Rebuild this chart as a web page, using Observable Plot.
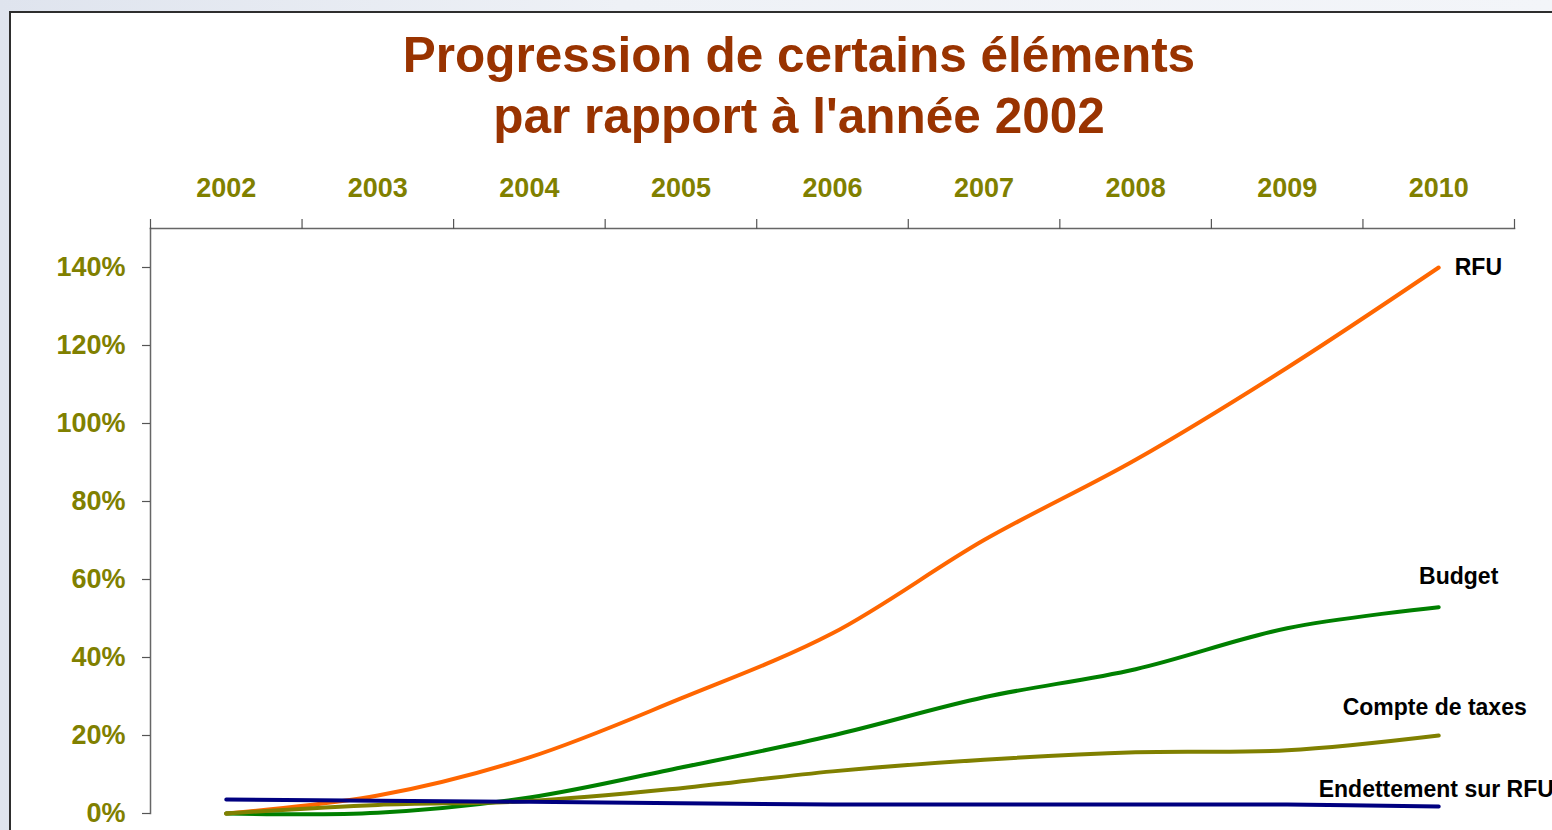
<!DOCTYPE html>
<html>
<head>
<meta charset="utf-8">
<script src="https://cdn.jsdelivr.net/npm/d3@7"></script>
<script src="https://cdn.jsdelivr.net/npm/@observablehq/plot@0.6"></script>
<style>
  html, body { margin: 0; padding: 0; width: 1552px; height: 830px; overflow: hidden; }
  body { background: linear-gradient(90deg, #dfe4ee 0%, #eef1f6 40%, #f3f5f9 100%); position: relative; font-family: "Liberation Sans", Arial, sans-serif; }
  #panel { position: absolute; left: 9px; top: 11px; width: 1600px; height: 900px; background: #fff; border: 2px solid #2e2e2e; box-sizing: border-box; }
  #title { position: absolute; left: 0; top: 24px; width: 1598px; text-align: center; font-weight: bold; font-size: 49.5px; line-height: 61px; color: #993300; }
  #chart { position: absolute; left: 0; top: 0; }
</style>
</head>
<body>
<div id="panel"></div>
<div id="title">Progression de certains éléments<br>par rapport à l'année 2002</div>
<div id="chart"></div>
<script>
const years = [2002, 2003, 2004, 2005, 2006, 2007, 2008, 2009, 2010];
const rfu = [0, 4.6, 14.4, 29.5, 46.2, 70.1, 90.7, 114.3, 140];
const budget = [0, 0.2, 4.1, 11.8, 20, 29.8, 37, 47.5, 52.9];
const compteTaxes = [0, 2.2, 3.2, 6.5, 10.8, 13.8, 15.7, 16.2, 20];
const endettement = [3.6, 3.3, 3.0, 2.6, 2.3, 2.3, 2.3, 2.3, 1.8];
const yTicks = [0, 20, 40, 60, 80, 100, 120, 140];

const seriesNames = ["RFU", "Budget", "Compte de taxes", "Endettement sur RFU"];
const seriesValues = [rfu, budget, compteTaxes, endettement];
const seriesColors = ["#ff6600", "#008000", "#808000", "#000080"];

const rows = seriesNames.flatMap((name, i) =>
  years.map((year, j) => ({ series: name, year, value: seriesValues[i][j] })));
const boundaries = [...years.map(y => y - 0.5), years[years.length - 1] + 0.5];
const last = name => rows.filter(d => d.series === name && d.year === years[years.length - 1]);

const font = "Liberation Sans, Arial, sans-serif";
const axisText = { fill: "#808000", fontSize: 27, fontWeight: "bold", fontFamily: font };
const labelText = { fill: "#000", fontSize: 23, fontWeight: "bold", fontFamily: font };

const chart = Plot.plot({
  width: 1552,
  height: 830,
  marginTop: 228,
  marginBottom: 17,
  marginLeft: 150,
  marginRight: 38,
  style: { background: "transparent", overflow: "visible" },
  x: { domain: [boundaries[0], boundaries[boundaries.length - 1]] },
  y: { domain: [0, 150] },
  color: { domain: seriesNames, range: seriesColors },
  marks: [
    Plot.frame({ anchor: "top", stroke: "#666", strokeWidth: 1.5 }),
    Plot.frame({ anchor: "left", stroke: "#666", strokeWidth: 1.5 }),
    Plot.axisX(years, { anchor: "top", tickSize: 0, tickPadding: 32, tickFormat: d => String(d), label: null, ...axisText }),
    Plot.axisX(boundaries, { anchor: "top", tickSize: 10, tickFormat: () => "", stroke: "#555", strokeWidth: 1.2, label: null }),
    Plot.axisY(yTicks, { anchor: "left", tickSize: 8, tickPadding: 17, tickFormat: d => d + "%", stroke: "#555", strokeWidth: 1.2, label: null, ...axisText }),
    Plot.line(rows, { x: "year", y: "value", z: "series", stroke: "series", strokeWidth: 4, curve: "catmull-rom", strokeLinecap: "round" }),
    Plot.text(last("RFU"), { x: "year", y: "value", text: "series", textAnchor: "start", dx: 16, dy: 0, ...labelText }),
    Plot.text(last("Budget"), { x: "year", y: "value", text: "series", textAnchor: "middle", dx: 20, dy: -31, ...labelText }),
    Plot.text(last("Compte de taxes"), { x: "year", y: "value", text: "series", textAnchor: "middle", dx: -4, dy: -28, ...labelText }),
    Plot.text(last("Endettement sur RFU"), { x: "year", y: "value", text: "series", textAnchor: "start", dx: -120, dy: -17, ...labelText })
  ]
});
document.getElementById("chart").appendChild(chart);
</script>
</body>
</html>
